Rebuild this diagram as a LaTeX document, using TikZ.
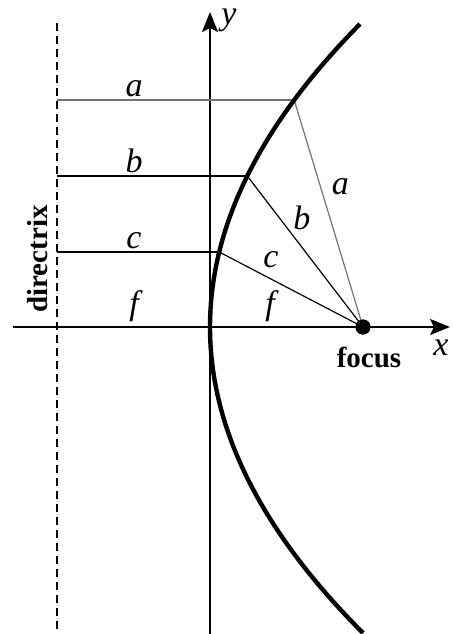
\documentclass[tikz,border=0pt]{standalone}
\usepackage{fontspec}
\setmainfont{Liberation Serif}
\usetikzlibrary{arrows.meta,positioning,calc}
\tikzset{
  axis/.style={line width=1pt, -{Stealth[length=10pt, width=8pt, inset=2pt]}},
  curve/.style={line width=2.2pt},
  guide/.style={line width=0.6pt},
  lightguide/.style={line width=0.6pt, draw=black!55},
  dir/.style={line width=0.7pt, dash pattern=on 4pt off 2.5pt},
  lbl/.style={font=\fontsize{17}{20}\selectfont\itshape, inner sep=1.5pt},
  word/.style={font=\fontsize{14.5}{17}\selectfont\bfseries, inner sep=1pt},
  dot/.style={circle, fill=black, minimum size=7.5pt, inner sep=0pt}
}

\begin{document}
\begin{tikzpicture}[x=5pt, y=5pt]
\useasboundingbox (-21,-30.7) rectangle (24.2,32.7);
% axes
\coordinate (xL) at (-19.7,0);
\coordinate (xR) at (24,0);
\coordinate (yB) at (0,-30.7);
\coordinate (yT) at (0,31.5);
\draw[axis] (xL) -- (xR);
\draw[axis] (yB) -- (yT);
\node[lbl] (xlab) at (23.1,-2.1) {x};
\node[lbl] (ylab) at (1.9,30.7) {y};
% directrix
\coordinate (dT) at (-15.3,30.4);
\coordinate (dB) at (-15.3,-30.7);
\draw[dir] (dT) -- (dB);
\node[word, rotate=90] (dirlab) at (-17.2,6.8) {directrix};
% points on the parabola and their feet on the directrix
\coordinate (A) at (8.42,22.7);
\coordinate (B) at (3.73,15.1);
\coordinate (C) at (0.92,7.5);
\coordinate (Ad) at (-15.3,22.7);
\coordinate (Bd) at (-15.3,15.1);
\coordinate (Cd) at (-15.3,7.5);
\node[dot] (F) at (15.3,0) {};
\node[word, below=5pt of F, xshift=3pt] (flab) {focus};
% distances
\draw[lightguide] (Ad) -- node[lbl, pos=0.325, above] {a} (A);
\draw[guide] (Bd) -- node[lbl, pos=0.405, above] {b} (B);
\draw[guide] (Cd) -- node[lbl, pos=0.475, above] {c} (C);
\draw[lightguide] (A) -- node[lbl, pos=0.38, right=4pt] {a} (F.center);
\draw[guide] (B) -- node[lbl, pos=0.28, right=5pt] {b} (F.center);
\draw[guide] (C) -- node[lbl, pos=0.36, above=4pt] {c} (F.center);
\node[lbl, above=1pt] (fl) at (-7.6,0) {f};
\node[lbl, above=1pt] (fr) at (6,0) {f};
% parabola
\draw[curve] plot[domain=-30.6:30.3, samples=80] ({\x*\x/61.2}, \x);
\node[dot] at (F) {};
\end{tikzpicture}
\end{document}
